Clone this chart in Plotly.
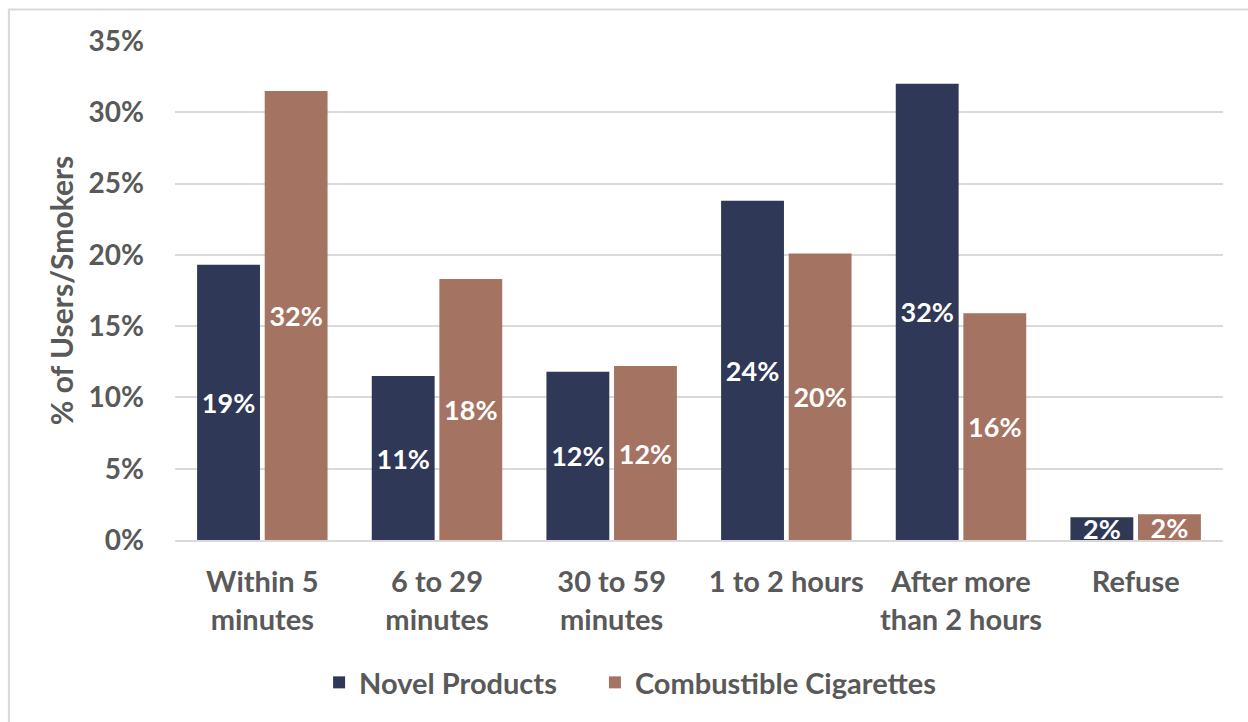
import plotly.graph_objects as go

categories = ["Within 5<br>minutes", "6 to 29<br>minutes", "30 to 59<br>minutes",
              "1 to 2 hours", "After more<br>than 2 hours", "Refuse"]
novel = [19.3, 11.5, 11.8, 23.8, 32.0, 1.6]
combustible = [31.5, 18.3, 12.2, 20.1, 15.9, 1.8]
novel_labels = ["19%", "11%", "12%", "24%", "32%", "2%"]
comb_labels = ["32%", "18%", "12%", "20%", "16%", "2%"]

NAVY = "#2F3856"
BROWN = "#A57361"
GRAY = "#595959"
FONT = "Lato"

legend_font = dict(size=29, family=FONT, color=GRAY, weight="bold")

fig = go.Figure()
fig.add_trace(go.Bar(
    name="Novel Products", x=categories, y=novel, text=novel_labels,
    marker=dict(color=NAVY, line=dict(width=0)), legend="legend",
    textposition="inside", insidetextanchor="middle", textangle=0,
    textfont=dict(color="white", size=27, family=FONT, weight="bold"),
))
fig.add_trace(go.Bar(
    name="Combustible Cigarettes", x=categories, y=combustible, text=comb_labels,
    marker=dict(color=BROWN, line=dict(width=0)), legend="legend2",
    textposition="inside", insidetextanchor="middle", textangle=0,
    textfont=dict(color="white", size=27, family=FONT, weight="bold"),
))

fig.update_layout(
    width=1248, height=722,
    margin=dict(l=175, r=25, t=41, b=182, autoexpand=False),
    paper_bgcolor="white", plot_bgcolor="white",
    barmode="group", bargap=0.226, bargroupgap=0.07,
    uniformtext=dict(minsize=27, mode="show"),
    font=dict(family=FONT, color=GRAY, size=28),
    showlegend=True,
    legend=dict(orientation="h", x=0.1375, y=-0.2856, xanchor="left", yanchor="middle",
                font=legend_font, itemwidth=30, bgcolor="rgba(0,0,0,0)"),
    legend2=dict(orientation="h", x=0.4007, y=-0.2856, xanchor="left", yanchor="middle",
                 font=legend_font, itemwidth=30, bgcolor="rgba(0,0,0,0)"),
    xaxis=dict(showgrid=False, showline=True, linecolor="#D9D9D9", linewidth=2,
               ticks="", tickfont=dict(size=29, family=FONT, color=GRAY, weight="bold"),
               ticklabelstandoff=15),
    yaxis=dict(range=[0, 35], dtick=5, ticksuffix="%", showgrid=True,
               gridcolor="#D9D9D9", gridwidth=2, zeroline=False, showline=False,
               tickfont=dict(size=28, family=FONT, color=GRAY, weight="bold"),
               ticklabelstandoff=30,
               title=dict(text="% of Users/Smokers", standoff=6,
                          font=dict(size=30, family=FONT, color=GRAY, weight="bold"))),
    shapes=[dict(type="rect", xref="paper", yref="paper",
                 x0=-0.1585, x1=1.2, y0=-0.5, y1=1.063,
                 line=dict(color="#D9D9D9", width=2), fillcolor="rgba(0,0,0,0)",
                 layer="below")],
)

fig.write_html("out.html")
